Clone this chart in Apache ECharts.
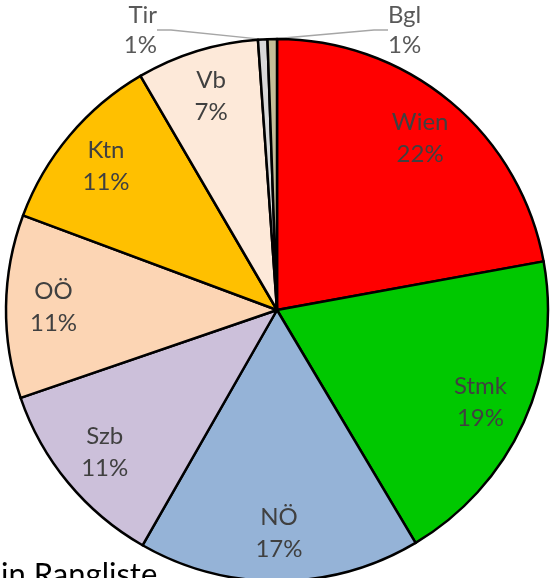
<!DOCTYPE html>
<html>
<head>
<meta charset="utf-8">
<script src="https://cdn.jsdelivr.net/npm/echarts@6/dist/echarts.min.js"></script>
<style>
html, body { margin: 0; padding: 0; background: #fff; }
#chart { width: 550px; height: 578px; }
</style>
</head>
<body>
<div id="chart"></div>
<script>
// Anteile je Bundesland, im Uhrzeigersinn ab 12 Uhr
const categories = ['Wien', 'Stmk', 'NÖ', 'Szb', 'OÖ', 'Ktn', 'Vb', 'Tir', 'Bgl'];
const counts = [79, 69, 60, 41, 39, 39, 26, 2, 2];
const sliceColors = ['#FF0000', '#00C800', '#95B3D7', '#CCC0DA', '#FCD5B4', '#FFC000', '#FDE9D9', '#D9D9D9', '#C4BD97'];
const outsideLabels = ['Tir', 'Bgl'];

const cx = 277;
const cy = 310;
const R = 271;
const total = counts.reduce((a, b) => a + b, 0);
const labelText = (p) => p.name + '\n' + Math.round((p.value / total) * 100) + '%';

const chart = echarts.init(document.getElementById('chart'));

const option = {
  animation: false,
  graphic: [
    {
      type: 'text',
      x: 1,
      y: 575,
      style: {
        text: 'in Rangliste',
        fontSize: 31,
        fontFamily: 'Lato',
        fill: '#000',
        verticalAlign: 'middle',
      },
    },
  ],
  series: [
    {
      // die eigentlichen Tortenstücke
      type: 'pie',
      center: [cx, cy],
      radius: R,
      startAngle: 90,
      clockwise: true,
      silent: true,
      avoidLabelOverlap: false,
      itemStyle: { borderColor: '#000', borderWidth: 2.5 },
      label: { show: false },
      labelLine: { show: false },
      data: categories.map((name, i) => {
        const item = { name, value: counts[i], itemStyle: { color: sliceColors[i] } };
        if (outsideLabels.includes(name)) {
          item.label = {
            show: true,
            position: 'outside',
            formatter: labelText,
            color: '#595959',
            fontSize: 24,
            lineHeight: 30,
            fontFamily: 'Lato',
          };
          item.labelLine = { show: true, length: 10, length2: 14, lineStyle: { color: '#A6A6A6', width: 1.5 } };
        }
        return item;
      }),
      labelLayout: (p) => {
        const name = categories[p.dataIndex];
        if (name === 'Tir') {
          return { x: cx - 120, y: cy - R - 9, align: 'right', verticalAlign: 'middle' };
        }
        if (name === 'Bgl') {
          return { x: cx + 111, y: cy - R - 9, align: 'left', verticalAlign: 'middle' };
        }
        return {};
      },
    },
    {
      // unsichtbarer Ring, nur damit die Beschriftungen weiter außen sitzen
      type: 'pie',
      center: [cx, cy],
      radius: [170, R],
      startAngle: 90,
      clockwise: true,
      silent: true,
      avoidLabelOverlap: false,
      itemStyle: { color: 'rgba(0,0,0,0)', borderWidth: 0 },
      label: {
        show: true,
        position: 'inside',
        formatter: labelText,
        color: '#404040',
        fontSize: 24,
        lineHeight: 32,
        fontFamily: 'Lato',
      },
      labelLine: { show: false },
      data: categories.map((name, i) => ({
        name,
        value: counts[i],
        label: { show: !outsideLabels.includes(name) },
      })),
    },
  ],
};

chart.setOption(option);
</script>
</body>
</html>
